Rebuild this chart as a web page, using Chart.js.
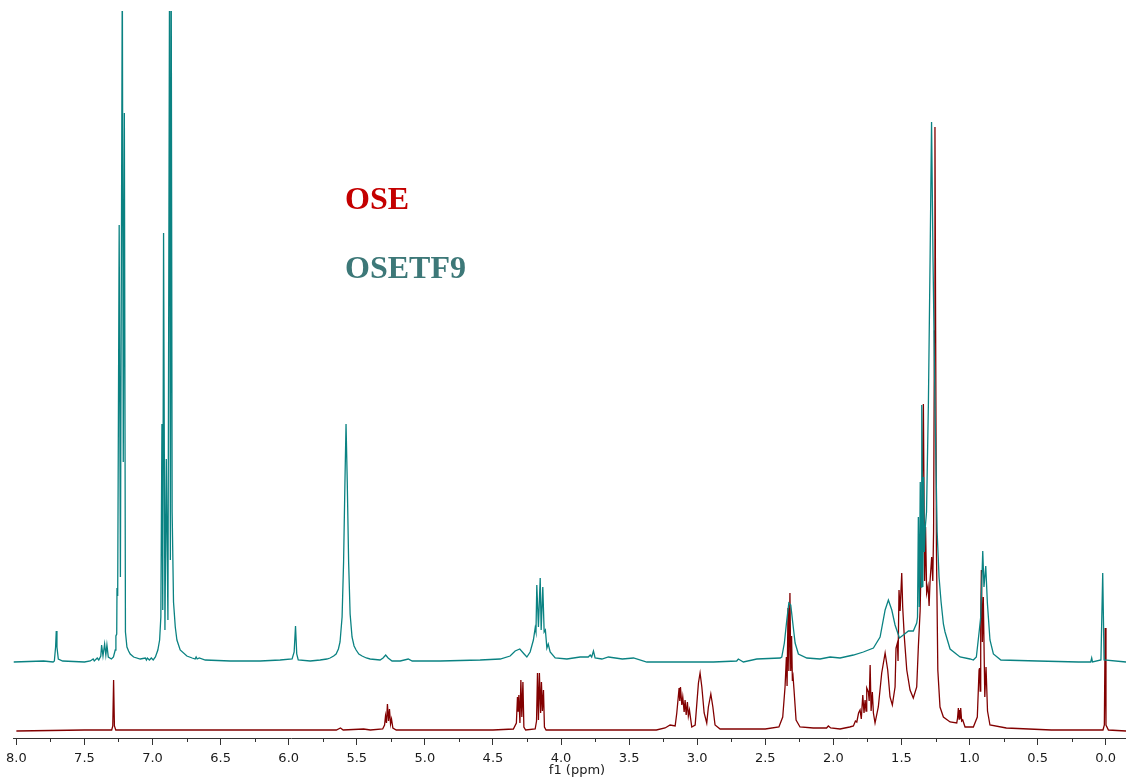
<!DOCTYPE html>
<html><head><meta charset="utf-8">
<script src="https://cdn.jsdelivr.net/npm/chart.js@4/dist/chart.umd.min.js"></script>
<style>
html,body{margin:0;padding:0;background:#fff;}
#wrap{position:relative;width:1126px;height:778px;overflow:hidden;}
canvas{display:block;}
.lbl{position:absolute;font-family:"Liberation Serif","Times New Roman",serif;font-weight:bold;font-size:32px;line-height:32px;white-space:nowrap;}
#xt{position:absolute;left:577px;top:762px;transform:translateX(-50%);font-family:"DejaVu Sans",sans-serif;font-size:13px;line-height:15px;color:#1a1a1a;white-space:nowrap;}
</style></head><body>
<div id="wrap"><canvas id="c" width="1126" height="778"></canvas>
<div class="lbl" id="l1" style="left:345px;top:182px;color:#c40000">OSE</div>
<div class="lbl" id="l2" style="left:345px;top:251px;color:#3d7878">OSETF9</div>
<div id="xt"></div>
</div>
<script>
// OSETF9 (teal) spectrum: chemical shift (ppm) and intensity above its own baseline
const tealPpm=[8.02,7.80,7.73,7.721,7.712,7.707,7.702,7.692,7.66,7.50,7.457,7.436,7.428,7.406,7.395,7.380,7.374,7.364,7.352,7.343,7.335,7.325,7.302,7.287,7.274,7.269,7.263,7.261,7.256,7.245,7.236,7.222,7.215,7.207,7.199,7.188,7.176,7.164,7.139,7.090,7.053,7.045,7.038,7.023,7.009,6.995,6.979,6.961,6.948,6.939,6.931,6.925,6.919,6.909,6.899,6.887,6.875,6.869,6.863,6.856,6.846,6.833,6.821,6.797,6.748,6.709,6.687,6.680,6.672,6.657,6.613,6.43,6.21,6.063,5.975,5.960,5.950,5.941,5.930,5.842,5.769,5.720,5.696,5.670,5.652,5.635,5.623,5.608,5.597,5.587,5.579,5.570,5.560,5.549,5.535,5.520,5.505,5.485,5.461,5.430,5.402,5.329,5.307,5.288,5.270,5.241,5.181,5.122,5.093,4.887,4.594,4.447,4.374,4.337,4.303,4.271,4.251,4.227,4.203,4.190,4.184,4.178,4.166,4.153,4.146,4.134,4.124,4.115,4.104,4.094,4.080,4.043,3.957,3.86,3.80,3.786,3.775,3.762,3.750,3.70,3.652,3.55,3.468,3.370,2.881,2.710,2.698,2.661,2.562,2.391,2.379,2.360,2.342,2.327,2.313,2.298,2.281,2.257,2.195,2.098,2.024,1.951,1.853,1.780,1.706,1.657,1.620,1.596,1.571,1.547,1.515,1.486,1.449,1.413,1.388,1.382,1.376,1.369,1.362,1.355,1.351,1.343,1.338,1.332,1.325,1.316,1.302,1.290,1.279,1.268,1.253,1.238,1.224,1.209,1.192,1.18,1.143,1.070,0.996,0.972,0.950,0.928,0.918,0.910,0.903,0.894,0.881,0.869,0.850,0.825,0.77,0.50,0.20,0.110,0.103,0.097,0.035,0.022,0.012,-0.149];
const tealInt=[0,1,0,1,15,31,15,3,1,0,1,3,1,4,2,6,17,6,18,7,17,5,3,5,12,26,28,74,66,437,85,700,200,549,30,15,11,8,5,3,4,2,4,2,4,2,5,12,22,45,238,52,429,32,203,42,700,102,700,150,60,35,22,12,6,4,3,5,3,4,2,1,1,2,3,10,36,8,2,1,2,3,4,6,8,13,20,45,100,180,238,180,100,48,25,16,12,8,6,4,3,2,4,7,4,1,1,3,1,1,2,3,6,11,13,8,5,10,22,34,30,77,35,84,32,75,30,32,14,18,10,4,3,5,5,7,5,11,4,3,5,3,4,0,0,1,3,0,3,4,5,19,42,59,57,39,19,8,4,3,5,4,7,10,14,25,52,62,52,37,24,27,31,31,39,45,145,55,180,75,257,75,185,110,135,150,260,400,540,400,250,130,85,60,38,30,13,5,3,2,5,32,45,80,111,75,96,59,22,8,2,1,0,0,4,0,2,89,2,0];

// OSE (dark red) spectrum
const redPpm=[8.00,7.50,7.30,7.292,7.286,7.280,7.27,6.50,5.65,5.62,5.60,5.45,5.40,5.31,5.296,5.289,5.282,5.275,5.267,5.260,5.252,5.245,5.235,5.21,4.90,4.50,4.35,4.328,4.320,4.315,4.310,4.302,4.295,4.288,4.280,4.273,4.26,4.19,4.180,4.173,4.166,4.159,4.150,4.144,4.137,4.129,4.122,4.11,3.60,3.30,3.236,3.199,3.162,3.150,3.133,3.128,3.123,3.113,3.106,3.096,3.089,3.081,3.072,3.065,3.057,3.040,3.015,2.991,2.979,2.966,2.949,2.930,2.918,2.900,2.885,2.869,2.832,2.50,2.40,2.372,2.355,2.345,2.340,2.333,2.327,2.319,2.313,2.307,2.301,2.296,2.289,2.274,2.245,2.147,2.05,2.037,2.02,1.951,1.880,1.853,1.838,1.828,1.815,1.804,1.795,1.784,1.775,1.767,1.760,1.755,1.743,1.737,1.730,1.723,1.714,1.706,1.694,1.670,1.645,1.620,1.601,1.584,1.567,1.547,1.540,1.530,1.525,1.518,1.510,1.498,1.491,1.479,1.461,1.437,1.413,1.388,1.376,1.363,1.351,1.339,1.330,1.323,1.315,1.305,1.297,1.290,1.278,1.270,1.264,1.258,1.254,1.249,1.243,1.233,1.217,1.192,1.143,1.094,1.088,1.082,1.077,1.073,1.069,1.065,1.058,1.050,1.033,0.972,0.943,0.930,0.927,0.922,0.918,0.913,0.906,0.899,0.888,0.879,0.868,0.850,0.73,0.40,0.02,0.010,0.004,-0.002,-0.02,-0.149];
const redInt=[0,1,1,5,51,5,1,1,1,3,1,2,1,2,6,15,8,27,10,22,7,12,3,1,1,1,2,8,34,20,36,8,51,14,49,4,1,2,10,58,11,58,18,49,20,41,4,1,1,1,3,6,5,18,43,30,44,26,34,19,31,16,29,15,21,4,6,48,58,44,18,8,24,37,24,6,2,2,4,14,44,74,45,123,60,138,60,95,50,54,41,11,4,3,3,5,3,2,4,5,10,9,18,21,12,36,18,31,20,43,39,30,66,20,39,18,8,24,58,78,61,34,26,44,83,88,70,141,120,158,124,94,61,41,33,44,84,120,200,327,150,204,138,145,125,150,174,150,200,400,604,400,180,61,24,14,9,8,13,23,12,21,13,23,10,11,4,4,14,61,63,40,114,161,89,134,34,64,20,6,3,1,1,6,103,6,1,0];

const tealOffset=69;               // vertical stacking offset of OSETF9 trace
const xTickValues=[8.0,7.5,7.0,6.5,6.0,5.5,5.0,4.5,4.0,3.5,3.0,2.5,2.0,1.5,1.0,0.5,0.0];
const xMinorTicks=[7.75,7.25,6.75,6.25,5.75,5.25,4.75,4.25,3.75,3.25,2.75,2.25,1.75,1.25,0.75,0.25];
const xTitle='f1 (ppm)';
document.getElementById('xt').textContent=xTitle;

const minorTickPlugin={id:'minorTicks',afterDraw(chart){
  const s=chart.scales.x,c=chart.ctx,y=chart.chartArea.bottom;
  c.save();c.strokeStyle='#333';c.lineWidth=1;c.beginPath();
  xMinorTicks.forEach(v=>{const x=Math.round(s.getPixelForValue(v))+0.5;c.moveTo(x,y);c.lineTo(x,y+4);});
  c.stroke();c.restore();}};

new Chart(document.getElementById('c').getContext('2d'),{
  type:'line',
  data:{datasets:[
    {label:'OSETF9',data:tealPpm.map((p,i)=>({x:p,y:tealInt[i]+tealOffset})),borderColor:'rgb(10,130,130)',borderWidth:1.3,pointRadius:0,tension:0,clip:0,fill:false},
    {label:'OSE',data:redPpm.map((p,i)=>({x:p,y:redInt[i]})),borderColor:'rgb(130,0,0)',borderWidth:1.3,pointRadius:0,tension:0,clip:0,fill:false}
  ]},
  options:{
    responsive:false,animation:false,events:[],
    layout:{padding:{top:11,left:13,right:0,bottom:0}},
    plugins:{legend:{display:false},tooltip:{enabled:false}},
    scales:{
      x:{type:'linear',reverse:true,min:-0.149,max:8.023,
        afterBuildTicks:s=>{s.ticks=xTickValues.map(v=>({value:v}));},
        afterFit:s=>{s.height=40;},
        grid:{display:true,drawOnChartArea:false,drawTicks:true,tickLength:7,color:'#333',tickColor:'#333'},
        border:{display:true,color:'#333',width:1},
        ticks:{autoSkip:false,maxRotation:0,padding:6,color:'#1a1a1a',font:{family:'DejaVu Sans',size:13},callback:v=>Number(v).toFixed(1)},
        title:{display:false}},
      y:{display:false,min:-7,max:720}
    }
  },
  plugins:[minorTickPlugin]
});
</script>
</body></html>
